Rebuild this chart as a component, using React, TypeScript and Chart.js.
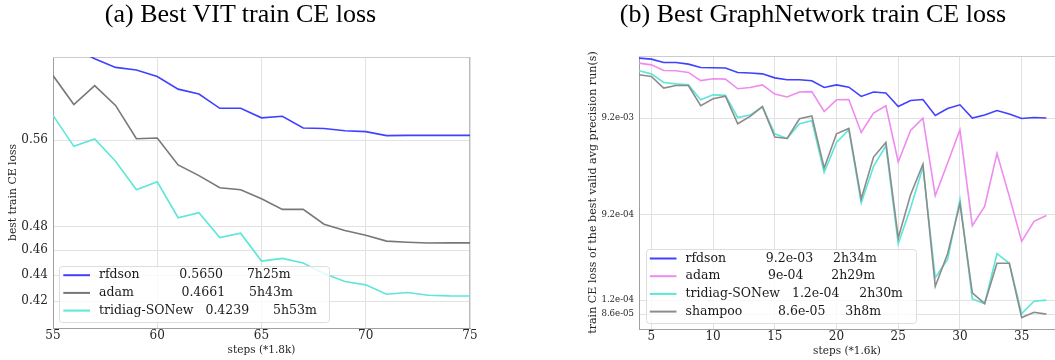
import React, { useEffect, useRef } from "react";
import { Chart, registerables } from "chart.js";

Chart.register(...registerables);

// ---------------- data: (a) VIT ----------------
const vitSteps = [55, 56, 57, 58, 59, 60, 61, 62, 63, 64, 65, 66, 67, 68, 69, 70, 71, 72, 73, 74, 75];
const vitRfdson = [0.675, 0.66, 0.648, 0.638, 0.635, 0.6276, 0.6137, 0.6083, 0.593, 0.593, 0.583, 0.5846, 0.5725, 0.572, 0.5697, 0.5688, 0.5647, 0.565, 0.565, 0.565, 0.565];
const vitAdam = [0.6288, 0.597, 0.6175, 0.5961, 0.5616, 0.5623, 0.5359, 0.5257, 0.5144, 0.5126, 0.5044, 0.4949, 0.4949, 0.482, 0.4766, 0.4726, 0.4676, 0.4667, 0.466, 0.4663, 0.4661];
const vitTridiag = [0.5856, 0.554, 0.5614, 0.5394, 0.5126, 0.52, 0.4876, 0.492, 0.4706, 0.4743, 0.4512, 0.4534, 0.4497, 0.4412, 0.435, 0.4324, 0.4252, 0.4265, 0.4245, 0.424, 0.4239];
const vitNames = ["rfdson", "adam", "tridiag-SONew"];
const vitFinals = ["0.5650", "0.4661", "0.4239"];
const vitTimes = ["7h25m", "5h43m", "5h53m"];
const vitXTicks = [55, 60, 65, 70, 75];
const vitYTicks = [0.42, 0.44, 0.46, 0.48, 0.56];
const vitYLabels = ["0.42", "0.44", "0.46", "0.48", "0.56"];

// ---------------- data: (b) GraphNetwork ----------------
const gnSteps = [4, 5, 6, 7, 8, 9, 10, 11, 12, 13, 14, 15, 16, 17, 18, 19, 20, 21, 22, 23, 24, 25, 26, 27, 28, 29, 30, 31, 32, 33, 34, 35, 36, 37];
const gnRfdson = [0.0384, 0.0375, 0.0346, 0.0346, 0.0333, 0.0307, 0.0305, 0.0303, 0.0273, 0.0269, 0.0264, 0.024, 0.0229, 0.0229, 0.0224, 0.0191, 0.0203, 0.0192, 0.0154, 0.0171, 0.0167, 0.0121, 0.014, 0.0143, 0.00979, 0.01156, 0.01262, 0.0092, 0.00988, 0.01102, 0.01012, 0.00911, 0.00933, 0.0092];
const gnAdam = [0.0341, 0.0327, 0.0286, 0.0284, 0.0273, 0.0225, 0.0235, 0.0233, 0.0185, 0.0191, 0.0203, 0.0163, 0.0152, 0.0171, 0.0173, 0.01077, 0.01422, 0.01432, 0.00653, 0.01036, 0.01233, 0.003227, 0.00685, 0.0092, 0.001446, 0.00315, 0.00696, 0.000708, 0.001121, 0.00396, 0.001423, 0.000487, 0.000784, 0.0009];
const gnTridiag = [0.0284, 0.0264, 0.0215, 0.0208, 0.0203, 0.01422, 0.016, 0.0158, 0.00933, 0.00988, 0.0121, 0.00633, 0.00566, 0.00803, 0.00863, 0.00252, 0.00515, 0.00696, 0.001215, 0.002905, 0.00476, 0.000461, 0.001079, 0.00285, 0.000205, 0.000317, 0.001324, 0.0001236, 0.0001105, 0.000363, 0.000289, 0.0000871, 0.0001167, 0.00012];
const gnShampoo = [0.0258, 0.0248, 0.0188, 0.02, 0.02, 0.01233, 0.01456, 0.01553, 0.00803, 0.00956, 0.0121, 0.00585, 0.00566, 0.00905, 0.00965, 0.0028, 0.00633, 0.00718, 0.001337, 0.003635, 0.00515, 0.000528, 0.001481, 0.00306, 0.000167, 0.000363, 0.001196, 0.0001426, 0.0001105, 0.000289, 0.000289, 0.0000792, 0.0000899, 0.000086];
const gnNames = ["rfdson", "adam", "tridiag-SONew", "shampoo"];
const gnFinals = ["9.2e-03", "9e-04", "1.2e-04", "8.6e-05"];
const gnTimes = ["2h34m", "2h29m", "2h30m", "3h8m"];
const gnXTicks = [5, 10, 15, 20, 25, 30, 35];
const gnYTicks = [0.000086, 0.00012, 0.00092, 0.0092];
const gnYLabels = ["8.6e-05", "1.2e-04", "9.2e-04", "9.2e-03"];

const SERIF = '"DejaVu Serif", serif';
const TEXT = "#262626";

function roundRectPath(ctx: CanvasRenderingContext2D, x: number, y: number, w: number, h: number, r: number) {
  ctx.beginPath();
  ctx.moveTo(x + r, y);
  ctx.arcTo(x + w, y, x + w, y + h, r);
  ctx.arcTo(x + w, y + h, x, y + h, r);
  ctx.arcTo(x, y + h, x, y, r);
  ctx.arcTo(x, y, x + w, y, r);
  ctx.closePath();
}

const framePlugin = {
  id: "frame",
  beforeDatasetsDraw(chart: any, _args: any, opts: any) {
    const { ctx, chartArea: ca } = chart;
    ctx.save();
    ctx.lineWidth = 1;
    ctx.strokeStyle = "#cccccc";
    ctx.beginPath();
    ctx.moveTo(ca.left, ca.top + 0.5);
    ctx.lineTo(ca.right, ca.top + 0.5);
    ctx.stroke();
    if (opts && opts.right) {
      ctx.strokeStyle = "#bbbbbb";
      ctx.beginPath();
      ctx.moveTo(ca.right - 0.5, ca.top);
      ctx.lineTo(ca.right - 0.5, ca.bottom);
      ctx.stroke();
    }
    ctx.restore();
  },
};

const boxLegendPlugin = {
  id: "boxLegend",
  afterDatasetsDraw(chart: any, _args: any, opts: any) {
    const { ctx, chartArea: ca } = chart;
    const items = opts.items as { text: string; color: string }[];
    ctx.save();
    ctx.font = `${opts.fontSize}px ${SERIF}`;
    const widths = items.map((it) => ctx.measureText(it.text).width);
    const rowH = 17.7;
    const boxL = ca.left + opts.offsetX;
    const w = 40 + Math.max(...widths) + 12.5;
    const h = items.length * rowH + 3;
    const boxB = ca.bottom - 6;
    const boxT = boxB - h;
    roundRectPath(ctx, Math.round(boxL) + 0.5, Math.round(boxT) + 0.5, Math.round(w), Math.round(h), 3);
    ctx.fillStyle = "rgba(255,255,255,0.8)";
    ctx.fill();
    ctx.strokeStyle = "#dddddd";
    ctx.lineWidth = 1;
    ctx.stroke();
    items.forEach((it, i) => {
      const y = boxT + 9.3 + i * rowH;
      ctx.strokeStyle = it.color;
      ctx.lineWidth = 2;
      ctx.beginPath();
      ctx.moveTo(boxL + 4.3, y);
      ctx.lineTo(boxL + 31, y);
      ctx.stroke();
      ctx.fillStyle = "#1a1a1a";
      ctx.textBaseline = "middle";
      ctx.textAlign = "left";
      ctx.fillText(it.text, boxL + 40, y);
    });
    ctx.restore();
  },
};

function legendText(name: string, fin: string, time: string) {
  return name.padEnd(16, " ") + fin.padEnd(12, " ") + time;
}

type ChartSpec = {
  steps: number[];
  series: number[][];
  colors: string[];
  names: string[];
  finals: string[];
  times: string[];
  xMin: number;
  xMax: number;
  xTicks: number[];
  yMin: number;
  yMax: number;
  yTicks: number[];
  yLabels: string[];
  yTickSize: number;
  yAxisWidth: number;
  xAxisHeight: number;
  padTop: number;
  padRight: number;
  yTitle: string;
  yTitleSize: number;
  yTitlePad: number;
  xTitle: string;
  xTitlePad: number;
  legendOffsetX: number;
  rightBorder: boolean;
};

function buildConfig(s: ChartSpec): any {
  const n = s.series.length;
  return {
    type: "line",
    data: {
      datasets: s.series.map((vals, i) => ({
        label: s.names[i],
        data: s.steps.map((x, j) => ({ x, y: vals[j] })),
        borderColor: s.colors[i],
        backgroundColor: s.colors[i],
        borderWidth: 1.6,
        pointRadius: 0,
        tension: 0,
        fill: false,
        order: n - i,
      })),
    },
    options: {
      responsive: false,
      animation: false,
      devicePixelRatio: 1,
      layout: { padding: { top: s.padTop, right: s.padRight, left: 0, bottom: 0 } },
      plugins: {
        legend: { display: false },
        tooltip: { enabled: false },
        title: { display: false },
        frame: { right: s.rightBorder },
        boxLegend: {
          fontSize: 12.5,
          offsetX: s.legendOffsetX,
          items: s.names.map((nm, i) => ({ text: legendText(nm, s.finals[i], s.times[i]), color: s.colors[i] })),
        },
      },
      scales: {
        x: {
          type: "linear",
          min: s.xMin,
          max: s.xMax,
          afterBuildTicks: (scale: any) => {
            scale.ticks = s.xTicks.map((v) => ({ value: v }));
          },
          afterFit: (scale: any) => {
            scale.height = s.xAxisHeight;
          },
          grid: { color: "#e2e2e2", lineWidth: 1, drawTicks: false },
          border: { display: true, color: "#a0a0a0", width: 1 },
          ticks: {
            autoSkip: false,
            maxRotation: 0,
            padding: 1,
            color: TEXT,
            font: { family: SERIF, size: 12 },
            callback: (v: any) => String(v),
          },
          title: {
            display: true,
            text: s.xTitle,
            color: TEXT,
            font: { family: SERIF, size: 10.5 },
            padding: { top: 0, bottom: s.xTitlePad },
          },
        },
        y: {
          type: "logarithmic",
          min: s.yMin,
          max: s.yMax,
          afterBuildTicks: (scale: any) => {
            scale.ticks = s.yTicks.map((v) => ({ value: v }));
          },
          afterFit: (scale: any) => {
            scale.width = s.yAxisWidth;
          },
          grid: { color: "#e2e2e2", lineWidth: 1, drawTicks: false },
          border: { display: true, color: "#a0a0a0", width: 1 },
          ticks: {
            autoSkip: false,
            padding: 5,
            color: TEXT,
            font: { family: SERIF, size: s.yTickSize },
            callback: (v: any) => {
              const idx = s.yTicks.findIndex((t) => Math.abs(t - v) / t < 1e-6);
              return idx >= 0 ? s.yLabels[idx] : "";
            },
          },
          title: {
            display: true,
            text: s.yTitle,
            color: TEXT,
            font: { family: SERIF, size: s.yTitleSize },
            padding: { top: s.yTitlePad, bottom: 0 },
          },
        },
      },
    },
    plugins: [framePlugin, boxLegendPlugin],
  };
}

function LineChart({ spec, width, height, left }: { spec: ChartSpec; width: number; height: number; left: number }) {
  const ref = useRef<HTMLCanvasElement | null>(null);
  useEffect(() => {
    if (!ref.current) return;
    const chart = new Chart(ref.current, buildConfig(spec));
    return () => chart.destroy();
  }, []);
  return (
    <canvas
      ref={ref}
      width={width}
      height={height}
      style={{ position: "absolute", left, top: 0, width, height }}
    />
  );
}

const vitSpec: ChartSpec = {
  steps: vitSteps,
  series: [vitRfdson, vitAdam, vitTridiag],
  colors: ["#4040ff", "#777777", "#5ee6d8"],
  names: vitNames,
  finals: vitFinals,
  times: vitTimes,
  xMin: 55,
  xMax: 75,
  xTicks: vitXTicks,
  yMin: 0.4003,
  yMax: 0.65,
  yTicks: vitYTicks,
  yLabels: vitYLabels,
  yTickSize: 12,
  yAxisWidth: 53,
  xAxisHeight: 32,
  padTop: 57,
  padRight: 30,
  yTitle: "best train CE loss",
  yTitleSize: 10.8,
  yTitlePad: 6.5,
  xTitle: "steps (*1.8k)",
  xTitlePad: 3,
  legendOffsetX: 6,
  rightBorder: true,
};

const gnSpec: ChartSpec = {
  steps: gnSteps,
  series: [gnRfdson, gnAdam, gnTridiag, gnShampoo],
  colors: ["#4040ff", "#ef8bef", "#5ee6d8", "#8c8c8c"],
  names: gnNames,
  finals: gnFinals,
  times: gnTimes,
  xMin: 4,
  xMax: 37.7,
  xTicks: gnXTicks,
  yMin: 0.0000603,
  yMax: 0.0404,
  yTicks: gnYTicks,
  yLabels: gnYLabels,
  yTickSize: 8.6,
  yAxisWidth: 79,
  xAxisHeight: 31,
  padTop: 56,
  padRight: 0,
  yTitle: "train CE loss of the best valid avg precision run(s)",
  yTitleSize: 11.1,
  yTitlePad: 26.7,
  xTitle: "steps (*1.6k)",
  xTitlePad: 2.5,
  legendOffsetX: 6.5,
  rightBorder: false,
};

const titleStyle: React.CSSProperties = {
  position: "absolute",
  top: 1,
  fontFamily: '"Liberation Serif", "Times New Roman", serif',
  fontSize: 26,
  lineHeight: "26px",
  color: "#000",
  whiteSpace: "nowrap",
  textAlign: "center",
  transform: "translateX(-50%)",
};

export default function App() {
  return (
    <div style={{ position: "absolute", left: 0, top: 0, width: 1055, height: 360, background: "#fff", overflow: "hidden" }}>
      <LineChart spec={vitSpec} width={500} height={360} left={0} />
      <LineChart spec={gnSpec} width={495} height={360} left={560} />
      <div style={{ ...titleStyle, left: 240.5 }}>(a) Best VIT train CE loss</div>
      <div style={{ ...titleStyle, left: 813 }}>(b) Best GraphNetwork train CE loss</div>
    </div>
  );
}
